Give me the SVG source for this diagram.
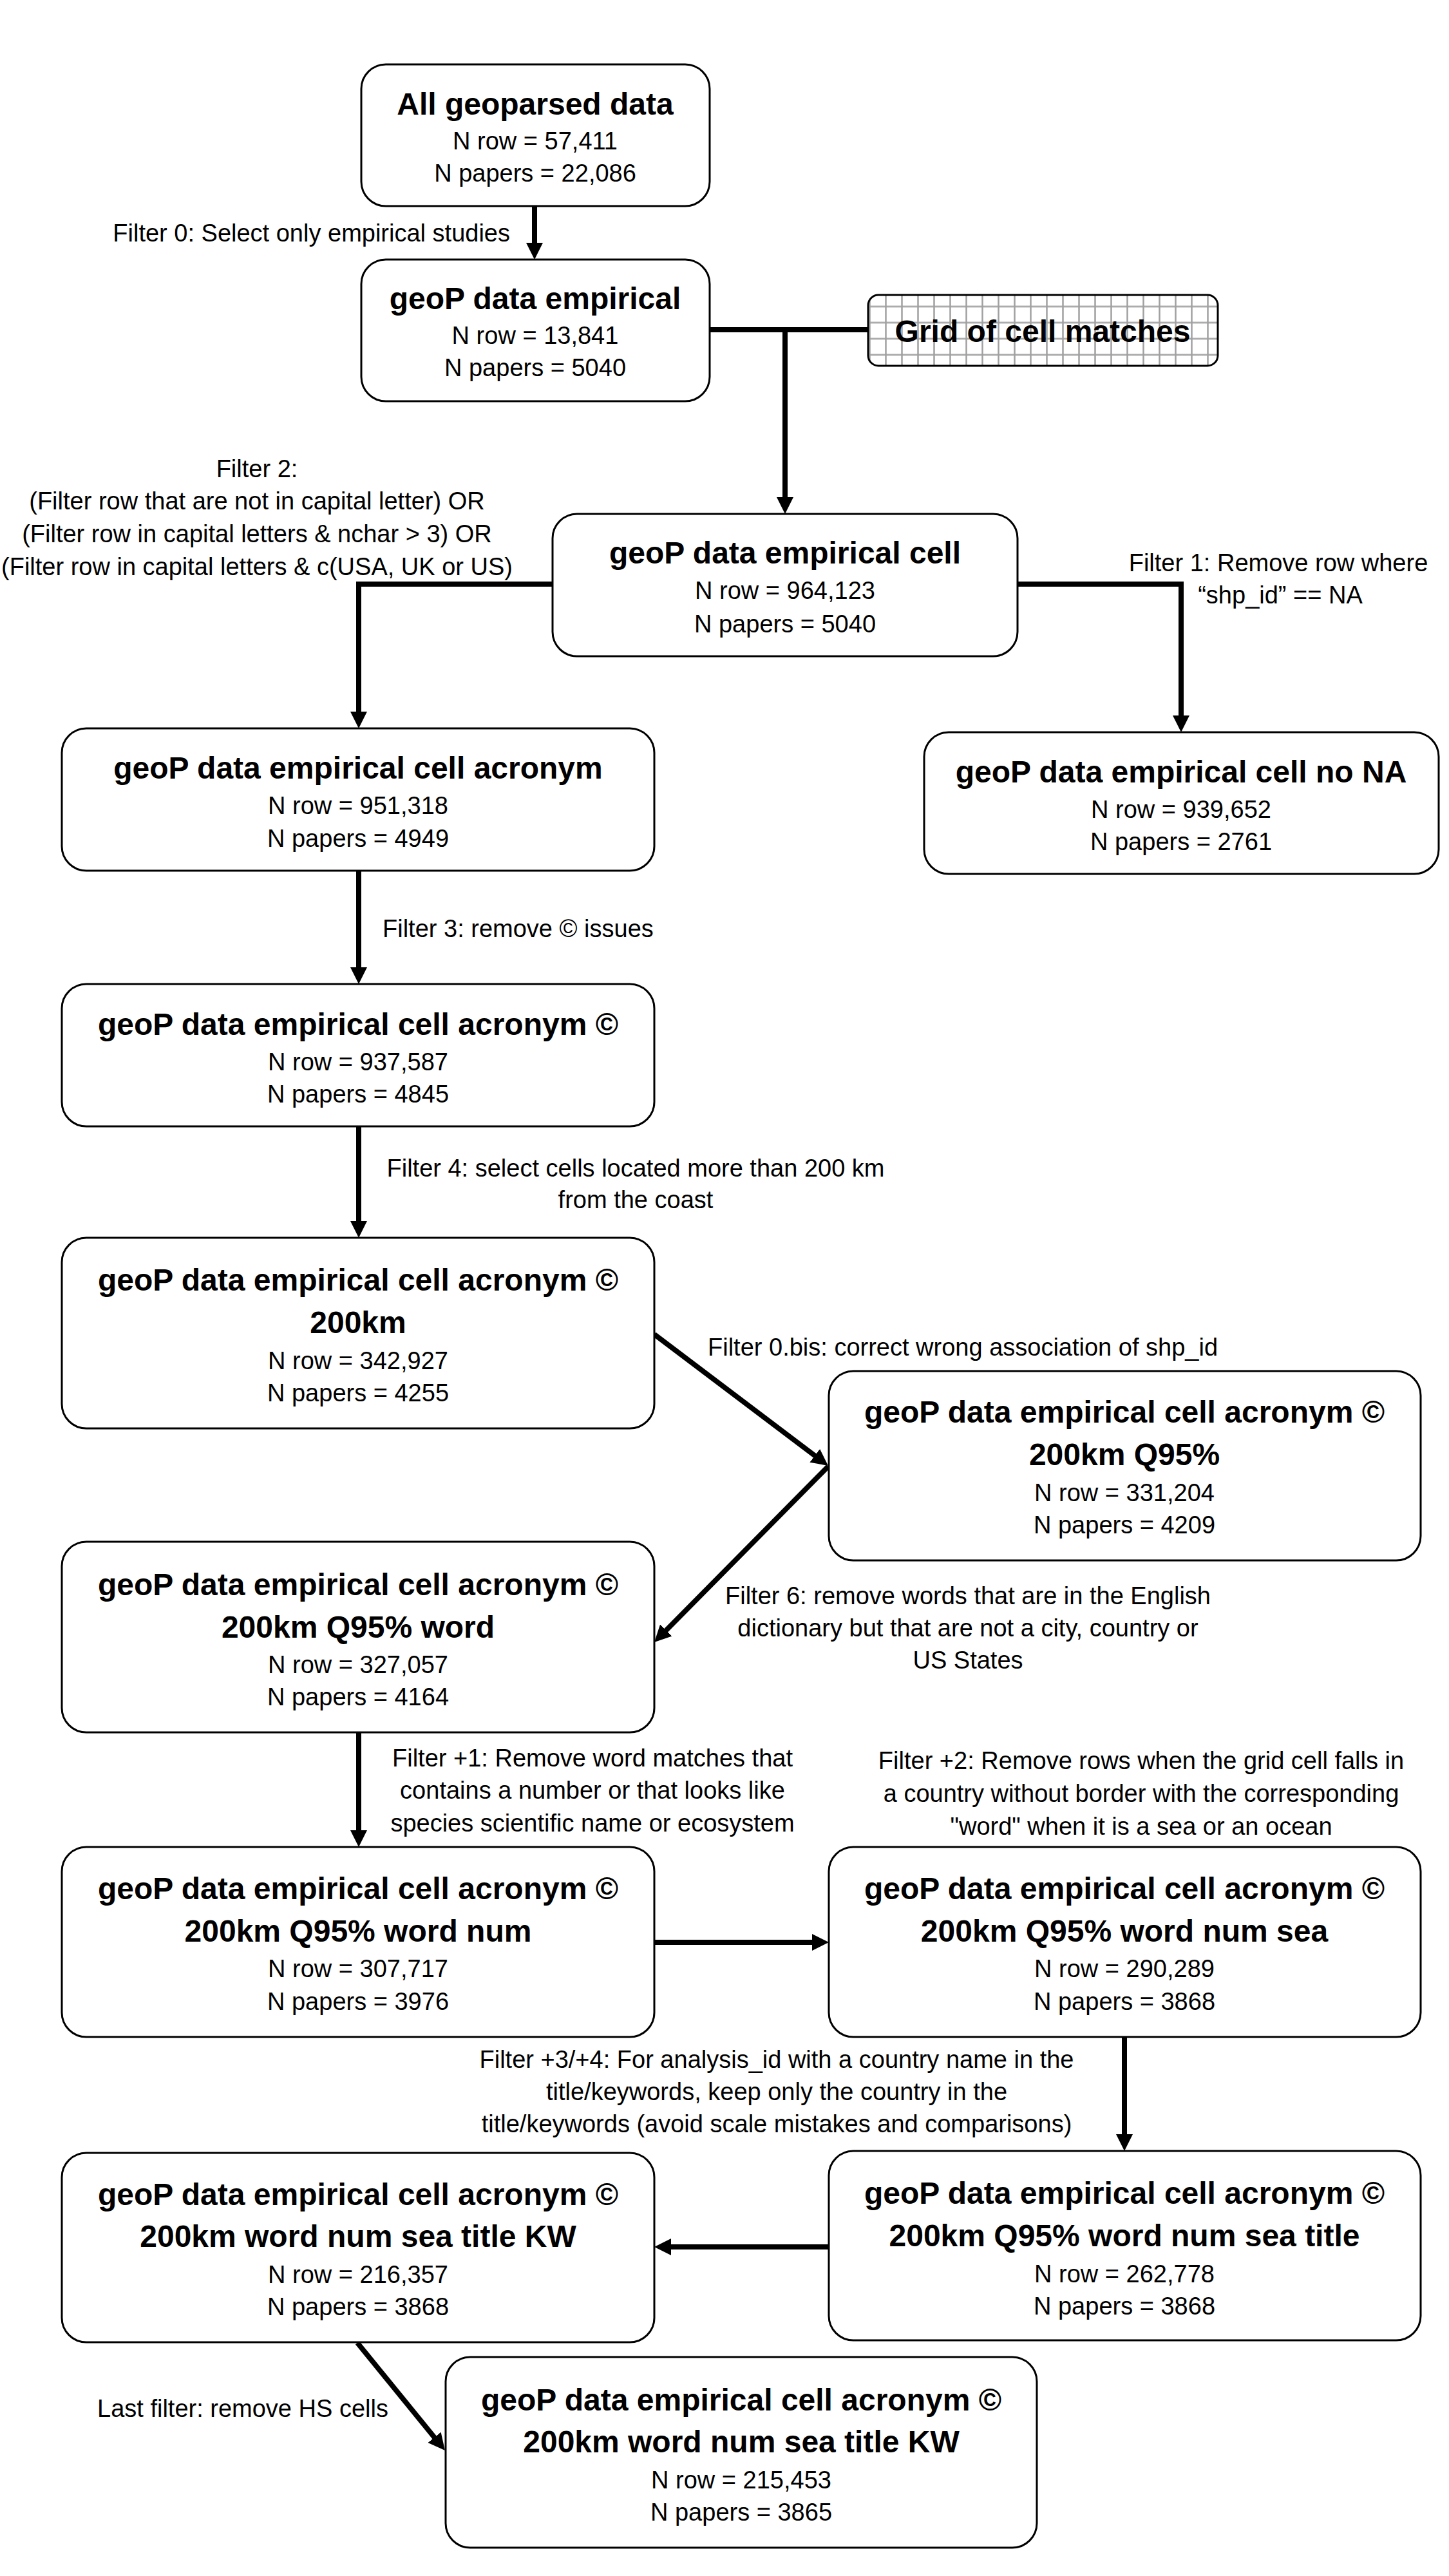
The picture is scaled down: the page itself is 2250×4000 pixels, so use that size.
<svg xmlns="http://www.w3.org/2000/svg" width="2250" height="4000" viewBox="0 0 2250 4000">
<defs>
<style>
.box{fill:#fff;stroke:#000;stroke-width:3}
.t{font-family:"Liberation Sans",Arial,sans-serif;font-weight:bold;font-size:48px;text-anchor:middle;fill:#000}
.r{font-family:"Liberation Sans",Arial,sans-serif;font-size:38px;text-anchor:middle;fill:#000}
.l{font-family:"Liberation Sans",Arial,sans-serif;font-size:38px;fill:#000}
.c{fill:none;stroke:#000;stroke-width:8}
.a{marker-end:url(#ah)}
</style>
<marker id="ah" markerUnits="userSpaceOnUse" markerWidth="26" markerHeight="26" viewBox="0 0 26 26" refX="8" refY="13" orient="auto">
<path d="M0 0L26 13L0 26Z" fill="#000"/>
</marker>
<pattern id="grid" patternUnits="userSpaceOnUse" x="1363" y="463.5" width="25" height="25">
<rect width="25" height="25" fill="#fff"/>
<path d="M12.5 0V25M0 12.5H25" stroke="#a0a0a0" stroke-width="2.5" fill="none"/>
</pattern>
</defs>
<rect width="2250" height="4000" fill="#fff"/>

<g id="connectors">
<path class="c a" d="M830 320V385"/>
<path class="c" d="M1102 512H1348"/>
<path class="c a" d="M1219 512V780"/>
<path class="c a" d="M858 907H557V1113"/>
<path class="c a" d="M1580 907H1834V1119"/>
<path class="c a" d="M557 1352V1510"/>
<path class="c a" d="M557 1749V1904"/>
<path class="c a" d="M1016 2072L1271.6 2265.1"/>
<path class="c a" d="M1286 2277L1028.7 2537.2"/>
<path class="c a" d="M557 2690V2850"/>
<path class="c a" d="M1016 3016H1269"/>
<path class="c a" d="M1746 3163V3322"/>
<path class="c a" d="M1287 3489H1034"/>
<path class="c a" d="M555 3638L679.6 3791"/>
</g>

<g id="labels">
<text class="l" x="792" y="375" text-anchor="end">Filter 0: Select only empirical studies</text>
<text class="r" x="399" y="741">Filter 2:</text>
<text class="r" x="399" y="791">(Filter row that are not in capital letter) OR</text>
<text class="r" x="399" y="842">(Filter row in capital letters &amp; nchar &gt; 3) OR</text>
<text class="r" x="399" y="893">(Filter row in capital letters &amp; c(USA, UK or US)</text>
<text class="r" x="1985" y="887">Filter 1: Remove row where</text>
<text class="r" x="1988" y="937">“shp_id” == NA</text>
<text class="l" x="594" y="1455">Filter 3: remove © issues</text>
<text class="r" x="987" y="1827">Filter 4: select cells located more than 200 km</text>
<text class="r" x="987" y="1876">from the coast</text>
<text class="l" x="1099" y="2105">Filter 0.bis: correct wrong association of shp_id</text>
<text class="r" x="1503" y="2491">Filter 6: remove words that are in the English</text>
<text class="r" x="1503" y="2541">dictionary but that are not a city, country or</text>
<text class="r" x="1503" y="2591">US States</text>
<text class="r" x="920" y="2743">Filter +1: Remove word matches that</text>
<text class="r" x="920" y="2793">contains a number or that looks like</text>
<text class="r" x="920" y="2844">species scientific name or ecosystem</text>
<text class="r" x="1772" y="2747">Filter +2: Remove rows when the grid cell falls in</text>
<text class="r" x="1772" y="2798">a country without border with the corresponding</text>
<text class="r" x="1772" y="2849">"word" when it is a sea or an ocean</text>
<text class="r" x="1206" y="3211">Filter +3/+4: For analysis_id with a country name in the</text>
<text class="r" x="1206" y="3261">title/keywords, keep only the country in the</text>
<text class="r" x="1206" y="3311">title/keywords (avoid scale mistakes and comparisons)</text>
<text class="l" x="151" y="3753">Last filter: remove HS cells</text>
</g>

<g id="n1">
<rect class="box" x="561" y="100" width="541" height="220" rx="38"/>
<text class="t" x="831" y="178">All geoparsed data</text>
<text class="r" x="831" y="232">N row = 57,411</text>
<text class="r" x="831" y="282">N papers = 22,086</text>
</g>
<g id="n2">
<rect class="box" x="561" y="403" width="541" height="220" rx="38"/>
<text class="t" x="831" y="480">geoP data empirical</text>
<text class="r" x="831" y="534">N row = 13,841</text>
<text class="r" x="831" y="584">N papers = 5040</text>
</g>
<g id="grid-box">
<rect x="1348" y="458" width="543" height="110" rx="16" fill="url(#grid)" stroke="#000" stroke-width="3"/>
<text class="t" x="1619" y="531">Grid of cell matches</text>
</g>
<g id="n3">
<rect class="box" x="858" y="798" width="722" height="221" rx="38"/>
<text class="t" x="1219" y="875">geoP data empirical cell</text>
<text class="r" x="1219" y="930">N row = 964,123</text>
<text class="r" x="1219" y="982">N papers = 5040</text>
</g>
<g id="n4">
<rect class="box" x="96" y="1131" width="920" height="221" rx="38"/>
<text class="t" x="556" y="1209">geoP data empirical cell acronym</text>
<text class="r" x="556" y="1264">N row = 951,318</text>
<text class="r" x="556" y="1315">N papers = 4949</text>
</g>
<g id="n5">
<rect class="box" x="1435" y="1137" width="799" height="220" rx="38"/>
<text class="t" x="1834" y="1215">geoP data empirical cell no NA</text>
<text class="r" x="1834" y="1270">N row = 939,652</text>
<text class="r" x="1834" y="1320">N papers = 2761</text>
</g>
<g id="n6">
<rect class="box" x="96" y="1528" width="920" height="221" rx="38"/>
<text class="t" x="556" y="1607">geoP data empirical cell acronym ©</text>
<text class="r" x="556" y="1662">N row = 937,587</text>
<text class="r" x="556" y="1712">N papers = 4845</text>
</g>
<g id="n7">
<rect class="box" x="96" y="1922" width="920" height="296" rx="38"/>
<text class="t" x="556" y="2004">geoP data empirical cell acronym ©</text>
<text class="t" x="556" y="2070">200km</text>
<text class="r" x="556" y="2126">N row = 342,927</text>
<text class="r" x="556" y="2176">N papers = 4255</text>
</g>
<g id="n8">
<rect class="box" x="1287" y="2129" width="919" height="294" rx="38"/>
<text class="t" x="1746" y="2209">geoP data empirical cell acronym ©</text>
<text class="t" x="1746" y="2275">200km Q95%</text>
<text class="r" x="1746" y="2331">N row = 331,204</text>
<text class="r" x="1746" y="2381">N papers = 4209</text>
</g>
<g id="n9">
<rect class="box" x="96" y="2394" width="920" height="296" rx="38"/>
<text class="t" x="556" y="2477">geoP data empirical cell acronym ©</text>
<text class="t" x="556" y="2543">200km Q95% word</text>
<text class="r" x="556" y="2598">N row = 327,057</text>
<text class="r" x="556" y="2648">N papers = 4164</text>
</g>
<g id="n10">
<rect class="box" x="96" y="2868" width="920" height="295" rx="38"/>
<text class="t" x="556" y="2949">geoP data empirical cell acronym ©</text>
<text class="t" x="556" y="3015">200km Q95% word num</text>
<text class="r" x="556" y="3070">N row = 307,717</text>
<text class="r" x="556" y="3121">N papers = 3976</text>
</g>
<g id="n11">
<rect class="box" x="1287" y="2868" width="919" height="295" rx="38"/>
<text class="t" x="1746" y="2949">geoP data empirical cell acronym ©</text>
<text class="t" x="1746" y="3015">200km Q95% word num sea</text>
<text class="r" x="1746" y="3070">N row = 290,289</text>
<text class="r" x="1746" y="3121">N papers = 3868</text>
</g>
<g id="n12">
<rect class="box" x="1287" y="3340" width="919" height="294" rx="38"/>
<text class="t" x="1746" y="3422">geoP data empirical cell acronym ©</text>
<text class="t" x="1746" y="3488">200km Q95% word num sea title</text>
<text class="r" x="1746" y="3544">N row = 262,778</text>
<text class="r" x="1746" y="3594">N papers = 3868</text>
</g>
<g id="n13">
<rect class="box" x="96" y="3343" width="920" height="294" rx="38"/>
<text class="t" x="556" y="3424">geoP data empirical cell acronym ©</text>
<text class="t" x="556" y="3489">200km word num sea title KW</text>
<text class="r" x="556" y="3545">N row = 216,357</text>
<text class="r" x="556" y="3595">N papers = 3868</text>
</g>
<g id="n14">
<rect class="box" x="692" y="3660" width="918" height="296" rx="38"/>
<text class="t" x="1151" y="3743">geoP data empirical cell acronym ©</text>
<text class="t" x="1151" y="3808">200km word num sea title KW</text>
<text class="r" x="1151" y="3864">N row = 215,453</text>
<text class="r" x="1151" y="3914">N papers = 3865</text>
</g>
</svg>
